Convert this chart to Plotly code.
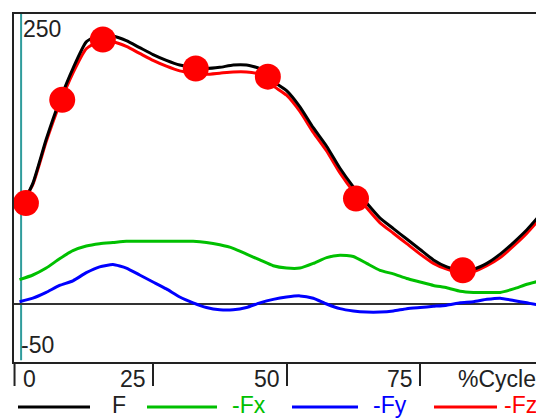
import plotly.graph_objects as go

# ---- data ----
cycle = [0, 2.5, 5, 7.5, 10, 12.5, 15, 17.5, 20, 22.5, 25, 27.5, 30, 32.5, 35, 37.5, 40,
         42.5, 45, 47.5, 50, 52.5, 55, 57.5, 60, 62.5, 65, 67.5, 70, 72.5, 75, 77.5, 80,
         82.5, 85, 87.5, 90, 92.5, 95, 97.5, 100]
F = [81, 104, 142, 175, 203, 226, 232, 231, 227, 221, 215, 210, 206, 204, 203, 204, 206,
     206, 203, 192, 184, 170, 152, 136, 117, 101, 87, 74, 65, 56, 47, 38, 32,
     29, 30, 35, 43, 53, 64, 77, 90]
Fz = [83, 103, 140, 172, 199, 220, 227, 226, 222, 216, 210, 205, 201, 199, 198, 199, 200,
      200, 198, 188, 180, 166, 148, 132, 113, 97, 83, 70, 61, 52, 43, 35, 30,
      27, 28, 33, 40, 50, 61, 74, 87]
Fx = [21, 25, 31, 39, 46, 50, 52, 53, 54, 54, 54, 54, 54, 54, 53, 51, 48,
      43, 38, 33, 31, 31, 35, 40, 42, 41, 35, 29, 26, 22, 19, 16, 14,
      11, 10, 10, 10, 13, 17, 20, 23]
Fy = [2, 5, 10, 16, 20, 27, 32, 34, 31, 25, 19, 13, 6, 1, -3, -5, -5,
      -3, 1, 4, 6, 7, 5, 0, -4, -6, -7, -7, -6, -4, -3, -2, -1,
      1, 2, 4, 5, 3, 1, -1, -1]
event_x = [1.2, 8.0, 15.6, 33.0, 46.5, 63.0, 83.0]
event_y = [87, 176, 228, 203, 196, 91, 29]

x_ticks = [0, 25, 50, 75]
x_tick_labels = ["0", "25", "50", "75"]
y_labels = ["250", "-50"]
legend_names = ["F", "-Fx", "-Fy", "-Fz"]
colors = ["#000000", "#00c000", "#0000ff", "#ff0000"]

OFF = 8  # page body margin
W, H = 544 - OFF, 419 - OFF
ML, MR, MT = 14 - OFF, 0, 14 - OFF
PLOT_BOTTOM = 362 - OFF
MB = H - PLOT_BOTTOM
PW, PH = W - ML - MR, H - MT - MB
FONT = "Liberation Sans"

def px_x(px):
    return (px - OFF - ML) / PW

def px_y(py):
    return (PLOT_BOTTOM - (py - OFF)) / PH

fig = go.Figure()
series = [(F, colors[0]), (Fx, colors[1]), (Fy, colors[2]), (Fz, colors[3])]
order = [1, 2, 3, 0]
for i in order:
    vals, c = series[i]
    fig.add_trace(go.Scatter(x=cycle, y=vals, mode="lines",
                             line=dict(color=c, width=3, shape="spline", smoothing=0.5),
                             showlegend=False, hoverinfo="skip"))
fig.add_trace(go.Scatter(x=event_x, y=event_y, mode="markers",
                         marker=dict(color="#ff0000", size=26, line=dict(width=0)),
                         cliponaxis=False, showlegend=False, hoverinfo="skip"))

shapes = []
# teal y-axis line
shapes.append(dict(type="line", xref="x", yref="paper", x0=0.3, x1=0.3, y0=0.005, y1=1,
                   line=dict(color="#2f9c9c", width=2), layer="below"))
# left border extension (tick at origin)
shapes.append(dict(type="line", xref="paper", yref="paper", x0=0.001, x1=0.001, y0=0, y1=px_y(386),
                   line=dict(color="#222", width=2)))
# legend lines
leg_lines = [(18, 90), (147, 217), (292, 358), (434, 497)]
for (a, b), c in zip(leg_lines, colors):
    shapes.append(dict(type="line", xref="paper", yref="paper", x0=px_x(a), x1=px_x(b),
                       y0=px_y(407), y1=px_y(407), line=dict(color=c, width=3)))

ann = []
tfont = dict(family=FONT, size=23, color="#222")
# x tick labels
ann.append(dict(x=px_x(21), y=px_y(379), xref="paper", yref="paper", text=x_tick_labels[0],
                showarrow=False, xanchor="left", yanchor="middle", font=tfont))
for v, t in zip(x_ticks[1:], x_tick_labels[1:]):
    ann.append(dict(x=v, y=px_y(379), xref="x", yref="paper", text=t, showarrow=False,
                    xanchor="right", yanchor="middle", xshift=-5, font=tfont))
ann.append(dict(x=px_x(538), y=px_y(379), xref="paper", yref="paper", text="%Cycle",
                showarrow=False, xanchor="right", yanchor="middle", font=tfont))
# y labels
ann.append(dict(x=px_x(21), y=px_y(29), xref="paper", yref="paper", text=y_labels[0],
                showarrow=False, xanchor="left", yanchor="middle", font=tfont))
ann.append(dict(x=px_x(19), y=px_y(345), xref="paper", yref="paper", text=y_labels[1],
                showarrow=False, xanchor="left", yanchor="middle", font=tfont))
# legend labels
leg_text_x = [119, 249, 390, 520]
for name, cx, c in zip(legend_names, leg_text_x, colors):
    ann.append(dict(x=px_x(cx), y=px_y(405), xref="paper", yref="paper", text=name,
                    showarrow=False, xanchor="center", yanchor="middle",
                    font=dict(family=FONT, size=23, color=c if c != "#000000" else "#222")))

fig.update_layout(
    width=W, height=H,
    margin=dict(l=ML, r=MR, t=MT, b=MB, pad=0),
    paper_bgcolor="white", plot_bgcolor="white",
    showlegend=False,
    shapes=shapes, annotations=ann,
    xaxis=dict(range=[-1.03, 98.2], showgrid=False, zeroline=False,
               showline=True, linecolor="#222", linewidth=2, mirror=True,
               ticks="outside", ticklen=22, tickwidth=2, tickcolor="#222",
               tickvals=x_ticks[1:], showticklabels=False, fixedrange=True),
    yaxis=dict(range=[-50, 250], showgrid=False, zeroline=True,
               zerolinecolor="#333", zerolinewidth=2,
               showline=True, linecolor="#222", linewidth=2,
               showticklabels=False, ticks="", fixedrange=True),
)

fig.write_html("out.html")
